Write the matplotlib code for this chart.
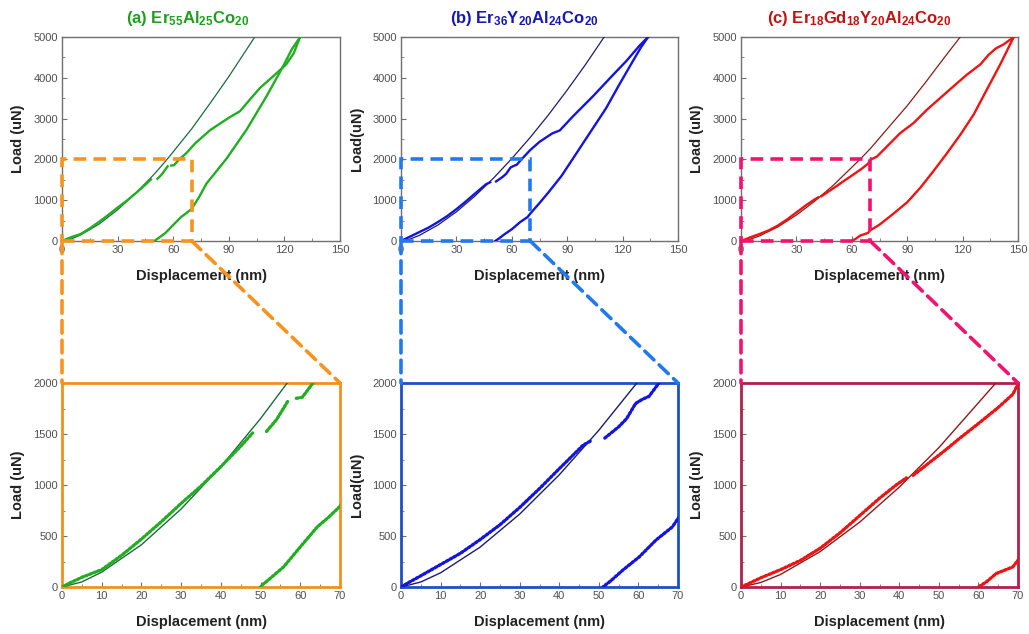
import numpy as np
import matplotlib
matplotlib.use("Agg")
import matplotlib.pyplot as plt
from matplotlib.patches import Rectangle, ConnectionPatch
from matplotlib.ticker import MultipleLocator

plt.rcParams['font.family'] = ['Liberation Sans', 'DejaVu Sans']
plt.rcParams['mathtext.fontset'] = 'custom'
plt.rcParams['mathtext.bf'] = 'Liberation Sans:bold'
plt.rcParams['mathtext.rm'] = 'Liberation Sans:bold'
plt.rcParams['mathtext.default'] = 'bf'

nan = np.nan

# ---- (a) Er55Al25Co20 ----
a_load_x = [0, 2, 5, 10, 15, 20, 25, 30, 35, 40, 45, 48, nan,
            51.5, 54, 57, nan,
            59, 60.5, 63, 67, 72, 80, 90, 96, 102, 107, 114, 121, 125, 128.5]
a_load_y = [0, 40, 95, 170, 310, 470, 640, 820, 990, 1180, 1380, 1510, nan,
            1525, 1640, 1830, nan,
            1850, 1860, 1990, 2150, 2400, 2720, 3020, 3180, 3500, 3760, 4040, 4330, 4600, 5000]
a_unload_x = [128.5, 124, 119.4, 110.4, 99.6, 88.8, 78, 74, 70, 67, 64.3, 60, 55.8, 52, 50.4, 50]
a_unload_y = [5000, 4700, 4290, 3550, 2730, 2020, 1410, 1080, 790, 680, 590, 393, 197, 70, 20, 0]
a_fit_x = [0, 5, 10, 20, 30, 40, 50, 56.7, 70, 80, 90, 104]
a_fit_y = [0, 50, 146, 414, 765, 1180, 1651, 2000, 2750, 3380, 4030, 5000]

# ---- (b) Er36Y20Al24Co20 ----
b_load_x = [0, 2, 5, 10, 15, 20, 25, 30, 35, 40, 43.4, 46, 48.3, nan,
            51.5, 55, 57, 59.3, 61, 62.7, 65, 70, 75, 82, 86, 93, 104, 115, 122, 129, 133.8]
b_load_y = [0, 45, 110, 220, 330, 465, 610, 780, 965, 1160, 1290, 1390, 1440, nan,
            1460, 1570, 1650, 1800, 1840, 1870, 1990, 2230, 2430, 2640, 2710, 3050, 3550, 4080, 4410, 4780, 5000]
b_unload_x = [133.8, 130, 125.7, 118.4, 111, 103, 95, 87, 80, 75, 70, 68.6, 64.4, 60.2, 56, 53, 51]
b_unload_y = [5000, 4750, 4420, 3850, 3250, 2700, 2150, 1600, 1200, 930, 672, 590, 459, 295, 164, 60, 0]
b_fit_x = [0, 5, 10, 20, 30, 40, 50, 59.6, 70, 80, 90, 100, 110]
b_fit_y = [0, 49, 139, 391, 715, 1100, 1537, 2000, 2540, 3100, 3700, 4330, 5000]

# ---- (c) Er18Gd18Y20Al24Co20 ----
c_load_x = [0, 2, 5, 10, 15, 20, 25, 30, 35, 39.3, 41.8, nan,
            43.5, 45, 51.9, 55, 60.3, 65, 68.7, 70, 73.6, 79, 86.2, 93.4, 100.7, 107.9, 115.1,
            122.4, 129.6, 134, 138, 142.2, 147.7]
c_load_y = [0, 35, 90, 170, 260, 380, 530, 700, 870, 1003, 1070, nan,
            1095, 1140, 1350, 1450, 1612, 1760, 1890, 1990, 2069, 2315, 2644, 2890, 3218, 3506, 3793,
            4080, 4327, 4560, 4720, 4819, 5000]
c_unload_x = [147.7, 140.4, 133, 126, 118.7, 111.5, 104, 97, 90, 82, 75, 70, 68.7, 64.5, 62, 60]
c_unload_y = [5000, 4330, 3700, 3100, 2600, 2150, 1700, 1300, 950, 650, 400, 263, 197, 132, 50, 0]
c_fit_x = [0, 5, 10, 20, 30, 40, 50, 64.4, 70, 80, 90, 100, 110, 118.7]
c_fit_y = [0, 44, 123, 347, 636, 979, 1366, 2000, 2262, 2790, 3315, 3892, 4490, 5000]

titles = [r'(a) Er$_{55}$Al$_{25}$Co$_{20}$',
          r'(b) Er$_{36}$Y$_{20}$Al$_{24}$Co$_{20}$',
          r'(c) Er$_{18}$Gd$_{18}$Y$_{20}$Al$_{24}$Co$_{20}$']
ylabels = ['Load (uN)', 'Load(uN)', 'Load (uN)']
xlabel = 'Displacement (nm)'

samples = [
    dict(load=(a_load_x, a_load_y), unload=(a_unload_x, a_unload_y), fit=(a_fit_x, a_fit_y),
         data_c='#22ad22', fit_c='#1c6b3c', title_c='#1f9e1f',
         box_c='#f7931e', frame_c='#f0901e'),
    dict(load=(b_load_x, b_load_y), unload=(b_unload_x, b_unload_y), fit=(b_fit_x, b_fit_y),
         data_c='#1414e0', fit_c='#1c1c6e', title_c='#1717b8',
         box_c='#2279ee', frame_c='#1f4fc4'),
    dict(load=(c_load_x, c_load_y), unload=(c_unload_x, c_unload_y), fit=(c_fit_x, c_fit_y),
         data_c='#ee1414', fit_c='#8c1a1a', title_c='#c21212',
         box_c='#f0146e', frame_c='#b0204c'),
]

W, H = 1029, 634
fig = plt.figure(figsize=(W / 100, H / 100), dpi=100)


def px_axes(left, top, right, bottom):
    return fig.add_axes([left / W, 1 - bottom / H, (right - left) / W, (bottom - top) / H])


lefts = [62, 401, 741]
rights = [340, 678, 1018]
title_x = [188, 524, 859]

zoom_x, zoom_y = 70, 2000
dash = (3.5, 2.0)

for i, s in enumerate(samples):
    top = px_axes(lefts[i], 37, rights[i], 241)
    bot = px_axes(lefts[i], 383, rights[i], 587)

    # overview panel
    top.plot(*s['fit'], color=s['fit_c'], lw=0.9, zorder=3)
    top.plot(*s['load'], color=s['data_c'], lw=1.7, zorder=4)
    top.plot(*s['unload'], color=s['data_c'], lw=1.7, zorder=4)
    top.set_xlim(0, 150)
    top.set_ylim(0, 5000)
    top.xaxis.set_major_locator(MultipleLocator(30))
    top.xaxis.set_minor_locator(MultipleLocator(15))
    top.yaxis.set_major_locator(MultipleLocator(1000))
    top.yaxis.set_minor_locator(MultipleLocator(500))
    for sp in top.spines.values():
        sp.set_color('#707070')
        sp.set_linewidth(1.0)

    top.add_patch(Rectangle((0, 0), zoom_x, zoom_y, fill=False, edgecolor=s['box_c'],
                            lw=2.6, linestyle=(0, dash), clip_on=False, zorder=6))

    # zoomed panel
    bot.plot(*s['fit'], color=s['fit_c'], lw=1.0, zorder=3)
    bot.plot(*s['load'], color=s['data_c'], lw=2.4, linestyle=(0, (0.6, 0.7)),
             dash_capstyle='round', zorder=4)
    bot.plot(*s['unload'], color=s['data_c'], lw=2.4, linestyle=(0, (0.6, 0.7)),
             dash_capstyle='round', zorder=4)
    bot.set_xlim(0, zoom_x)
    bot.set_ylim(0, zoom_y)
    bot.xaxis.set_major_locator(MultipleLocator(10))
    bot.xaxis.set_minor_locator(MultipleLocator(5))
    bot.yaxis.set_major_locator(MultipleLocator(500))
    bot.yaxis.set_minor_locator(MultipleLocator(250))
    for sp in bot.spines.values():
        sp.set_color(s['frame_c'])
        sp.set_linewidth(2.0)

    for ax in (top, bot):
        ax.tick_params(which='both', direction='in', top=False, right=False,
                       labelsize=8, labelcolor='#505050', color='#707070', pad=3)
        ax.tick_params(which='major', length=3.5)
        ax.tick_params(which='minor', length=2)
        ax.set_xlabel(xlabel, fontsize=10.5, fontweight='bold', color='#222222', labelpad=10)
        ax.set_ylabel(ylabels[i], fontsize=10.5, fontweight='bold', color='#222222', labelpad=6)

    # dashed guides from the overview box to the zoomed panel
    for xa in (0, zoom_x):
        con = ConnectionPatch(xyA=(xa, 0), coordsA=top.transData,
                              xyB=(xa, zoom_y), coordsB=bot.transData,
                              color=s['box_c'], lw=2.6, linestyle=(0, dash), zorder=6)
        fig.add_artist(con)

    fig.text(title_x[i] / W, 1 - 18 / H, titles[i], ha='center', va='center',
             fontsize=12, fontweight='bold', color=s['title_c'])

fig.savefig('out.png', dpi=100)
